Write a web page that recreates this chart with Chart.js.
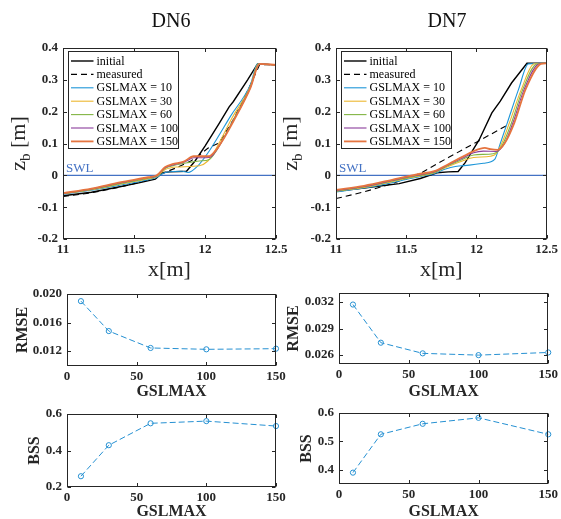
<!DOCTYPE html>
<html>
<head>
<meta charset="utf-8">
<script src="https://cdn.jsdelivr.net/npm/chart.js@4.4.1/dist/chart.umd.min.js"></script>
<style>
  html, body { margin: 0; padding: 0; background: #fff; }
  #wrap { position: relative; width: 561px; height: 519px; }
  #wrap canvas { position: absolute; left: 0; top: 0; }
</style>
</head>
<body>
<div id="wrap">
  <canvas id="dn6-profile" width="561" height="519"></canvas>
  <canvas id="dn7-profile" width="561" height="519"></canvas>
  <canvas id="dn6-rmse" width="561" height="519"></canvas>
  <canvas id="dn7-rmse" width="561" height="519"></canvas>
  <canvas id="dn6-bss" width="561" height="519"></canvas>
  <canvas id="dn7-bss" width="561" height="519"></canvas>
</div>
<script>
// --- PROFILE AXES ---
const profileXRange = [11, 12.5];
const profileXTicks = [11, 11.5, 12, 12.5];
const profileXLabels = ['11', '11.5', '12', '12.5'];
const profileZRange = [-0.2, 0.4];
const profileZTicks = [-0.2, -0.1, 0, 0.1, 0.2, 0.3, 0.4];
const profileZLabels = ['-0.2', '-0.1', '0', '0.1', '0.2', '0.3', '0.4'];
const swlLevel = 0;
const runLabels = ['GSLMAX = 10', 'GSLMAX = 30', 'GSLMAX = 60', 'GSLMAX = 100', 'GSLMAX = 150'];

// --- DN6 PROFILES [x (m), zb (m)] ---
const dn6Initial = [[11, -0.064], [11.2, -0.053], [11.4, -0.036], [11.55, -0.022], [11.65, -0.012], [11.7, 0.008], [11.75, 0.011], [11.87, 0.013], [11.93, 0.045], [12.0, 0.092], [12.1, 0.163], [12.17, 0.215], [12.2, 0.232], [12.3, 0.3], [12.37, 0.35], [12.5, 0.347]];
const dn6Measured = [[11, -0.066], [11.1, -0.061], [11.2, -0.055], [11.3, -0.046], [11.4, -0.037], [11.5, -0.026], [11.6, -0.015], [11.7, 0.006], [11.8, 0.024], [11.9, 0.045], [11.95, 0.06], [12.02, 0.085], [12.1, 0.102], [12.2, 0.175], [12.3, 0.265], [12.385, 0.348], [12.5, 0.347]];
const dn6Run10 = [[11, -0.059], [11.2, -0.047], [11.4, -0.031], [11.6, -0.014], [11.66, -0.006], [11.72, 0.009], [11.84, 0.013], [11.88, 0.009], [11.95, 0.03], [12.02, 0.07], [12.08, 0.112], [12.18, 0.186], [12.32, 0.285], [12.37, 0.35], [12.5, 0.347]];
const dn6Run30 = [[11, -0.058], [11.2, -0.045], [11.4, -0.028], [11.6, -0.011], [11.66, -0.004], [11.72, 0.018], [11.8, 0.026], [11.96, 0.03], [12.02, 0.045], [12.06, 0.07], [12.1, 0.102], [12.19, 0.18], [12.32, 0.28], [12.375, 0.35], [12.5, 0.347]];
const dn6Run60 = [[11, -0.057], [11.2, -0.044], [11.4, -0.026], [11.6, -0.009], [11.66, -0.002], [11.72, 0.022], [11.78, 0.031], [11.88, 0.04], [11.96, 0.045], [12.03, 0.05], [12.07, 0.07], [12.11, 0.1], [12.2, 0.175], [12.32, 0.278], [12.38, 0.35], [12.5, 0.347]];
const dn6Run100 = [[11, -0.057], [11.2, -0.043], [11.4, -0.024], [11.6, -0.007], [11.66, -0.001], [11.72, 0.024], [11.78, 0.033], [11.86, 0.043], [11.92, 0.055], [12.03, 0.056], [12.07, 0.072], [12.115, 0.103], [12.2, 0.172], [12.32, 0.276], [12.383, 0.35], [12.5, 0.347]];
const dn6Run150 = [[11, -0.056], [11.2, -0.042], [11.4, -0.022], [11.6, -0.006], [11.66, 0.0], [11.72, 0.026], [11.77, 0.035], [11.85, 0.043], [11.92, 0.06], [12.03, 0.06], [12.07, 0.075], [12.12, 0.107], [12.2, 0.17], [12.32, 0.275], [12.385, 0.35], [12.5, 0.347]];

// --- DN7 PROFILES [x (m), zb (m)] ---
const dn7Initial = [[11, -0.05], [11.2, -0.04], [11.45, -0.026], [11.6, -0.01], [11.72, 0.008], [11.8, 0.011], [11.87, 0.012], [11.92, 0.04], [12.02, 0.112], [12.11, 0.196], [12.17, 0.233], [12.25, 0.29], [12.36, 0.352], [12.5, 0.352]];
const dn7Measured = [[11, -0.073], [11.2, -0.052], [11.4, -0.026], [11.6, 0.006], [11.8, 0.056], [12.0, 0.104], [12.23, 0.16]];
const dn7Run10 = [[11, -0.052], [11.2, -0.04], [11.4, -0.023], [11.5, -0.013], [11.6, -0.004], [11.7, 0.006], [11.78, 0.02], [11.85, 0.028], [11.95, 0.032], [12.05, 0.038], [12.13, 0.05], [12.17, 0.1], [12.22, 0.165], [12.3, 0.27], [12.37, 0.35], [12.5, 0.352]];
const dn7Run30 = [[11, -0.05], [11.2, -0.038], [11.4, -0.02], [11.5, -0.01], [11.6, -0.002], [11.7, 0.008], [11.8, 0.028], [11.9, 0.045], [11.98, 0.056], [12.1, 0.06], [12.14, 0.068], [12.18, 0.1], [12.235, 0.165], [12.32, 0.27], [12.41, 0.35], [12.5, 0.352]];
const dn7Run60 = [[11, -0.049], [11.2, -0.036], [11.4, -0.018], [11.5, -0.008], [11.6, 0.0], [11.7, 0.01], [11.8, 0.031], [11.9, 0.05], [11.98, 0.064], [12.12, 0.068], [12.155, 0.076], [12.19, 0.1], [12.25, 0.165], [12.33, 0.27], [12.43, 0.35], [12.5, 0.352]];
const dn7Run100 = [[11, -0.048], [11.2, -0.035], [11.4, -0.016], [11.5, -0.006], [11.6, 0.002], [11.7, 0.011], [11.8, 0.033], [11.9, 0.054], [11.98, 0.071], [12.05, 0.076], [12.14, 0.075], [12.2, 0.1], [12.26, 0.165], [12.34, 0.27], [12.445, 0.35], [12.5, 0.352]];
const dn7Run150 = [[11, -0.046], [11.2, -0.033], [11.4, -0.014], [11.5, -0.004], [11.6, 0.005], [11.7, 0.013], [11.8, 0.035], [11.9, 0.058], [11.98, 0.076], [12.06, 0.086], [12.1, 0.082], [12.15, 0.08], [12.2, 0.1], [12.27, 0.165], [12.35, 0.27], [12.46, 0.35], [12.5, 0.352]];

// --- SKILL METRICS VS GSLMAX ---
const gslmax = [10, 30, 60, 100, 150];
const gslRange = [0, 150];
const gslTicks = [0, 50, 100, 150];
const gslLabels = ['0', '50', '100', '150'];
const dn6Rmse = [0.0190, 0.0148, 0.01243, 0.01224, 0.01233];
const dn6Bss = [0.259, 0.429, 0.549, 0.561, 0.534];
const dn7Rmse = [0.0317, 0.0274, 0.0262, 0.0260, 0.0263];
const dn7Bss = [0.390, 0.525, 0.562, 0.583, 0.525];
const dn6RmseRange = [0.0099, 0.020];
const dn6RmseTicks = [0.012, 0.016, 0.020];
const dn6RmseLabels = ['0.012', '0.016', '0.020'];
const dn7RmseRange = [0.025, 0.033];
const dn7RmseTicks = [0.026, 0.029, 0.032];
const dn7RmseLabels = ['0.026', '0.029', '0.032'];
const dn6BssRange = [0.2, 0.6];
const dn6BssTicks = [0.2, 0.4, 0.6];
const dn6BssLabels = ['0.2', '0.4', '0.6'];
const dn7BssRange = [0.35, 0.6];
const dn7BssTicks = [0.4, 0.5, 0.6];
const dn7BssLabels = ['0.4', '0.5', '0.6'];

// --- STYLE ---
const FONT = "'Liberation Serif', 'DejaVu Serif', serif";
const INK = '#262626';
const SWL_BLUE = '#4472c4';
const RUN_COLORS = ['#1e96d8', '#edb730', '#82b543', '#8b3d9b', '#e5743f'];
const METRIC_BLUE = '#2590d2';
const TICK = 3.5;
const W = 561, H = 519;

// plot boxes in page pixels
const dn6ProfileBox = { left: 63, right: 276, top: 48, bottom: 239, titleX: 171, titleY: 22, xTitleY: 270, zLabelX: 25 };
const dn7ProfileBox = { left: 336, right: 549, top: 48, bottom: 239, titleX: 447, titleY: 22, xTitleY: 270, zLabelX: 297 };
const dn6RmseBox = { left: 67, right: 276, top: 294, bottom: 366, xTitleY: 392, yTitleX: 22.5 };
const dn7RmseBox = { left: 339, right: 549, top: 293, bottom: 364, xTitleY: 392, yTitleX: 294 };
const dn6BssBox = { left: 67, right: 276, top: 414, bottom: 487, xTitleY: 512, yTitleX: 35 };
const dn7BssBox = { left: 339, right: 549, top: 413, bottom: 484, xTitleY: 512, yTitleX: 306.5 };

const toPoints = arr => arr.map(([x, y]) => ({ x, y }));
const fixedTicks = values => scale => { scale.ticks = values.map(v => ({ value: v })); };

// --- DRAW HELPERS ---
function drawFrame(chart) {
    const { ctx, chartArea: a, scales: { x, y } } = chart;
    const L = Math.round(a.left) + 0.5, R = Math.round(a.right) - 0.5;
    const T = Math.round(a.top) + 0.5, B = Math.round(a.bottom) - 0.5;
    ctx.save();
    ctx.strokeStyle = INK; ctx.lineWidth = 1; ctx.setLineDash([]);
    ctx.strokeRect(L, T, R - L, B - T);
    ctx.beginPath();
    x.ticks.forEach(t => {
        const p = Math.round(x.getPixelForValue(t.value)) + 0.5;
        ctx.moveTo(p, B); ctx.lineTo(p, B - TICK);
        ctx.moveTo(p, T); ctx.lineTo(p, T + TICK);
    });
    y.ticks.forEach(t => {
        const p = Math.round(y.getPixelForValue(t.value)) + 0.5;
        ctx.moveTo(L, p); ctx.lineTo(L + TICK, p);
        ctx.moveTo(R, p); ctx.lineTo(R - TICK, p);
    });
    ctx.stroke();
    ctx.restore();
}

function drawLegend(chart) {
    const { ctx, chartArea: a } = chart;
    const items = chart.data.datasets.filter(d => d.label !== 'SWL');
    const bx = Math.round(a.left + 5) + 0.5, by = Math.round(a.top + 3) + 0.5, bw = 110, bh = 97;
    ctx.save();
    ctx.fillStyle = '#fff'; ctx.fillRect(bx, by, bw, bh);
    ctx.strokeStyle = INK; ctx.lineWidth = 1; ctx.strokeRect(bx, by, bw, bh);
    ctx.font = `12px ${FONT}`; ctx.textBaseline = 'middle'; ctx.textAlign = 'left';
    items.forEach((d, i) => {
        const yy = by + 9.5 + i * 13.4;
        ctx.strokeStyle = d.borderColor; ctx.lineWidth = d.borderWidth; ctx.setLineDash(d.borderDash || []);
        ctx.beginPath(); ctx.moveTo(bx + 2.5, yy); ctx.lineTo(bx + 25, yy); ctx.stroke();
        ctx.fillStyle = '#000';
        ctx.fillText(d.label, bx + 28, yy + 0.5);
    });
    ctx.restore();
}

function drawZLabel(ctx, baseX, midY) {
    const big = `22px ${FONT}`, small = `15px ${FONT}`;
    ctx.save();
    ctx.translate(baseX, midY); ctx.rotate(-Math.PI / 2);
    ctx.fillStyle = INK; ctx.textBaseline = 'alphabetic'; ctx.textAlign = 'left';
    ctx.font = big; const wz = ctx.measureText('z').width, wm = ctx.measureText(' [m]').width;
    ctx.font = small; const wb = ctx.measureText('b').width;
    let cx = -(wz + wb + wm) / 2;
    ctx.font = big; ctx.fillText('z', cx, 0); cx += wz;
    ctx.font = small; ctx.fillText('b', cx, 5); cx += wb;
    ctx.font = big; ctx.fillText(' [m]', cx, 0);
    ctx.restore();
}

function decorPlugin(box, title) {
    return {
        id: 'decor',
        afterDatasetsDraw(chart) {
            if (!title) return;
            const { ctx, chartArea: a, scales: { y } } = chart;
            ctx.save();
            ctx.font = `13px ${FONT}`; ctx.fillStyle = SWL_BLUE; ctx.textAlign = 'left'; ctx.textBaseline = 'alphabetic';
            ctx.fillText('SWL', a.left + 3, y.getPixelForValue(swlLevel) - 3);
            ctx.restore();
            drawLegend(chart);
        },
        afterDraw(chart) {
            drawFrame(chart);
            if (!title) return;
            const { ctx, chartArea: a } = chart;
            ctx.save();
            ctx.font = `20px ${FONT}`; ctx.fillStyle = '#111'; ctx.textAlign = 'center'; ctx.textBaseline = 'middle';
            ctx.fillText(title, box.titleX, box.titleY);
            ctx.restore();
            drawZLabel(ctx, box.zLabelX, (a.top + a.bottom) / 2);
        }
    };
}

function axis(range, ticks, labels, extra) {
    return Object.assign({
        type: 'linear', min: range[0], max: range[1],
        afterBuildTicks: fixedTicks(ticks),
        grid: { display: false, drawTicks: false },
        border: { display: false },
        ticks: { autoSkip: false, maxRotation: 0, color: INK, font: { family: FONT, size: 13, weight: 'bold' }, callback: (v, i) => labels[i] }
    }, extra);
}

// --- PROFILE PANELS ---
function profileChart(id, box, title, initial, measured, runs) {
    const xTitleFont = { family: FONT, size: 22 };
    const xAxisH = box.xTitleY - box.bottom + xTitleFont.size * 1.2 / 2;
    const datasets = [
        { label: 'initial', data: toPoints(initial), borderColor: '#000', borderWidth: 1.4, order: 8 },
        { label: 'measured', data: toPoints(measured), borderColor: '#000', borderWidth: 1.1, borderDash: [6, 4], order: 7 },
        ...runs.map((r, i) => ({
            label: runLabels[i], data: toPoints(r), borderColor: RUN_COLORS[i],
            borderWidth: i === runs.length - 1 ? 1.8 : 1.1, cubicInterpolationMode: 'monotone', order: runs.length - i
        })),
        { label: 'SWL', data: [{ x: profileXRange[0], y: swlLevel }, { x: profileXRange[1], y: swlLevel }], borderColor: SWL_BLUE, borderWidth: 1.1, order: 9 }
    ];
    const xScale = axis(profileXRange, profileXTicks, profileXLabels, {
        afterFit: s => { s.height = xAxisH; },
        title: { display: true, text: 'x[m]', color: INK, font: xTitleFont, padding: 0 }
    });
    xScale.ticks.padding = 3;
    const yScale = axis(profileZRange, profileZTicks, profileZLabels, { afterFit: s => { s.width = box.left; } });
    yScale.ticks.padding = 5;
    return new Chart(document.getElementById(id), {
        type: 'line',
        data: { datasets },
        options: {
            responsive: false, animation: false, events: [],
            layout: { padding: { left: 0, top: box.top, right: W - box.right, bottom: H - box.bottom - xAxisH } },
            plugins: { legend: { display: false }, tooltip: { enabled: false } },
            elements: { point: { radius: 0 }, line: { tension: 0 } },
            scales: { x: xScale, y: yScale }
        },
        plugins: [decorPlugin(box, title)]
    });
}

// --- METRIC PANELS ---
function metricChart(id, box, name, values, range, ticks, labels) {
    const titleFont = { family: FONT, size: 16, weight: 'bold' };
    const lh = titleFont.size * 1.2;
    const xAxisH = box.xTitleY - box.bottom + lh / 2;
    const padLeft = box.yTitleX - lh / 2;
    const xScale = axis(gslRange, gslTicks, gslLabels, {
        afterFit: s => { s.height = xAxisH; },
        title: { display: true, text: 'GSLMAX', color: INK, font: titleFont, padding: 0 }
    });
    xScale.ticks.padding = 3;
    const yScale = axis(range, ticks, labels, {
        afterFit: s => { s.width = box.left - padLeft; },
        title: { display: true, text: name, color: INK, font: titleFont, padding: 0 }
    });
    yScale.ticks.padding = 5;
    return new Chart(document.getElementById(id), {
        type: 'line',
        data: {
            datasets: [{
                label: name, data: gslmax.map((g, i) => ({ x: g, y: values[i] })),
                borderColor: METRIC_BLUE, borderWidth: 1, borderDash: [6, 3], clip: false,
                pointRadius: 2.6, pointBorderWidth: 1, pointBorderColor: METRIC_BLUE, pointBackgroundColor: 'rgba(0,0,0,0)'
            }]
        },
        options: {
            responsive: false, animation: false, events: [],
            layout: { padding: { left: padLeft, top: box.top, right: W - box.right, bottom: H - box.bottom - xAxisH } },
            plugins: { legend: { display: false }, tooltip: { enabled: false } },
            elements: { line: { tension: 0 } },
            scales: { x: xScale, y: yScale }
        },
        plugins: [decorPlugin(box, null)]
    });
}

profileChart('dn6-profile', dn6ProfileBox, 'DN6', dn6Initial, dn6Measured, [dn6Run10, dn6Run30, dn6Run60, dn6Run100, dn6Run150]);
profileChart('dn7-profile', dn7ProfileBox, 'DN7', dn7Initial, dn7Measured, [dn7Run10, dn7Run30, dn7Run60, dn7Run100, dn7Run150]);
metricChart('dn6-rmse', dn6RmseBox, 'RMSE', dn6Rmse, dn6RmseRange, dn6RmseTicks, dn6RmseLabels);
metricChart('dn7-rmse', dn7RmseBox, 'RMSE', dn7Rmse, dn7RmseRange, dn7RmseTicks, dn7RmseLabels);
metricChart('dn6-bss', dn6BssBox, 'BSS', dn6Bss, dn6BssRange, dn6BssTicks, dn6BssLabels);
metricChart('dn7-bss', dn7BssBox, 'BSS', dn7Bss, dn7BssRange, dn7BssTicks, dn7BssLabels);
</script>
</body>
</html>
